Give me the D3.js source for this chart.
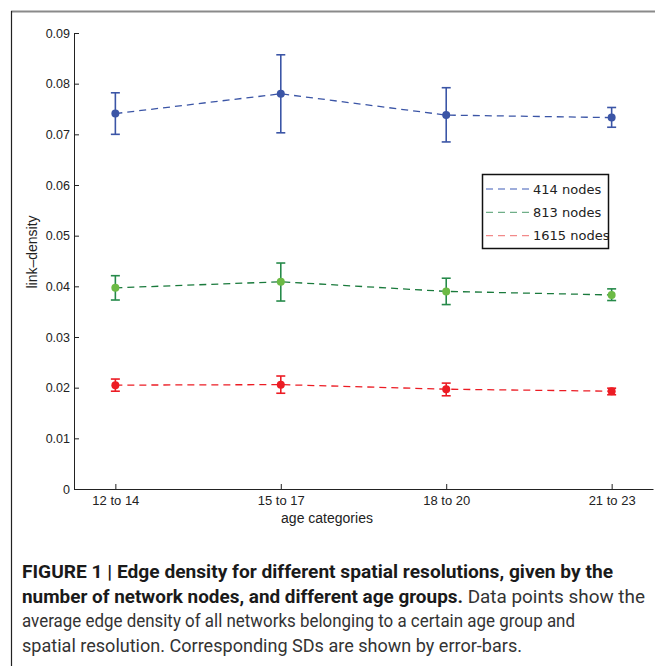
<!DOCTYPE html>
<html><head><meta charset="utf-8">
<script src="https://cdn.jsdelivr.net/npm/d3@7"></script>
<style>body{margin:0;background:#fff}svg{display:block}</style>
</head><body>
<script>
const categories = ["12 to 14","15 to 17","18 to 20","21 to 23"];
const seriesNames = ["414 nodes","813 nodes","1615 nodes"];
const mean414 = [0.0741,0.0780,0.0738,0.0733];
const lo414   = [0.0700,0.0703,0.0685,0.0714];
const hi414   = [0.0782,0.0857,0.0792,0.0753];
const mean813 = [0.0397,0.0409,0.0390,0.0383];
const lo813   = [0.0373,0.0371,0.0364,0.0372];
const hi813   = [0.0421,0.0446,0.0416,0.0395];
const mean1615= [0.0205,0.0206,0.0197,0.0193];
const lo1615  = [0.0193,0.0189,0.0184,0.0186];
const hi1615  = [0.0217,0.0223,0.0209,0.0199];
const yTicks = [0,0.01,0.02,0.03,0.04,0.05,0.06,0.07,0.08,0.09];
const yTickLabels = ["0","0.01","0.02","0.03","0.04","0.05","0.06","0.07","0.08","0.09"];

const W=655,H=666;
const svg=d3.select("body").append("svg").attr("width",W).attr("height",H);
// frame
svg.append("line").attr("x1",11).attr("x2",655).attr("y1",11.5).attr("y2",11.5).attr("stroke","#8a8a8a").attr("stroke-width",2);
svg.append("line").attr("x1",11.5).attr("x2",11.5).attr("y1",11).attr("y2",666).attr("stroke","#222").attr("stroke-width",1.2);

const x=d3.scaleLinear().domain([0.75,4.25]).range([74,653]);
const y=d3.scaleLinear().domain([0,0.09]).range([489,33]);

const g=svg.append("g");
// y axis (inward ticks)
const yAxis=d3.axisLeft(y).tickValues(yTicks).tickFormat((d,i)=>yTickLabels[i]).tickSizeInner(-5).tickSizeOuter(0).tickPadding(4);
const ya=g.append("g").attr("transform","translate(74,0)").call(yAxis);
ya.select(".domain").attr("stroke","#222");
ya.selectAll(".tick line").attr("stroke","#222");
ya.selectAll("text").attr("font-family","Liberation Sans, Arial, sans-serif").attr("font-size",12.5).attr("fill","#222");
const xAxis=d3.axisBottom(x).tickValues([1,2,3,4]).tickFormat((d,i)=>categories[i]).tickSizeInner(-5).tickSizeOuter(0).tickPadding(7);
const xa=g.append("g").attr("transform","translate(0,489)").call(xAxis);
xa.select(".domain").attr("stroke","#222");
xa.selectAll(".tick line").attr("stroke","#222");
xa.selectAll("text").attr("font-family","Liberation Sans Narrow, Liberation Sans, Arial, sans-serif").attr("font-size",13).attr("fill","#222");

svg.append("text").attr("transform","translate(37,252) rotate(-90)").attr("text-anchor","middle")
  .attr("font-family","Liberation Sans, Arial, sans-serif").attr("font-size",14).attr("fill","#222").text("link–density");
svg.append("text").attr("x",327).attr("y",523).attr("text-anchor","middle")
  .attr("font-family","Liberation Sans, Arial, sans-serif").attr("font-size",14).attr("fill","#222").text("age categories");

const series=[
 {mean:mean414,lo:lo414,hi:hi414,line:"#3b55a6",err:"#3b55a6",mk:"#3b55a6",leg:"#7f93d0"},
 {mean:mean813,lo:lo813,hi:hi813,line:"#1a7a3c",err:"#268a4a",mk:"#6cba45",leg:"#6fae88"},
 {mean:mean1615,lo:lo1615,hi:hi1615,line:"#ec1c24",err:"#ec1c24",mk:"#ec1c24",leg:"#f28a8a"}
];
series.forEach(s=>{
  const pts=s.mean.map((v,i)=>({x:i+1,v,lo:s.lo[i],hi:s.hi[i]}));
  svg.append("path").datum(pts).attr("fill","none").attr("stroke",s.line).attr("stroke-width",1.3)
    .attr("stroke-dasharray","7,5").attr("d",d3.line().x(d=>x(d.x)).y(d=>y(d.v)));
  const eg=svg.append("g");
  pts.forEach(d=>{
    const cx=x(d.x);
    eg.append("line").attr("x1",cx).attr("x2",cx).attr("y1",y(d.lo)).attr("y2",y(d.hi)).attr("stroke",s.err).attr("stroke-width",1.6);
    [d.lo,d.hi].forEach(v=>eg.append("line").attr("x1",cx-4.5).attr("x2",cx+4.5).attr("y1",y(v)).attr("y2",y(v)).attr("stroke",s.err).attr("stroke-width",1.6));
    eg.append("circle").attr("cx",cx).attr("cy",y(d.v)).attr("r",4).attr("fill",s.mk);
  });
});

// legend
const lg=svg.append("g");
lg.append("rect").attr("x",482.5).attr("y",174.5).attr("width",126).attr("height",74).attr("fill","#fff").attr("stroke","#111").attr("stroke-width",1.5);
const clip=svg.append("clipPath").attr("id","lc").append("rect").attr("x",483).attr("y",175).attr("width",125).attr("height",73);
const lgi=lg.append("g").attr("clip-path","url(#lc)");
seriesNames.forEach((n,i)=>{
  const yy=189+i*23.3;
  lgi.append("line").attr("x1",486).attr("x2",531).attr("y1",yy).attr("y2",yy).attr("stroke",series[i].leg).attr("stroke-width",1.3).attr("stroke-dasharray","7,5");
  lgi.append("text").attr("x",533).attr("y",yy+4.5).attr("font-family","DejaVu Sans, sans-serif").attr("font-size",13).attr("fill","#222").text(n);
});

// caption
const cap=svg.append("g").attr("font-family","Roboto, Liberation Sans, Arial, sans-serif").attr("font-size",17.5).attr("fill","#222");
const lines=[
  [["FIGURE 1 | Edge density for different spatial resolutions, given by the",true]],
  [["number of network nodes, and different age groups.",true],[" Data points show the",false]],
  [["average edge density of all networks belonging to a certain age group and",false]],
  [["spatial resolution. Corresponding SDs are shown by error-bars.",false]]
];
const widths=[591,623,553,500];
lines.forEach((ln,i)=>{
  const t=cap.append("text").attr("x",22).attr("y",578+i*24.5).attr("textLength",widths[i]).attr("lengthAdjust","spacingAndGlyphs");
  ln.forEach(([s,b])=>t.append("tspan").attr("font-weight",b?"bold":"normal").attr("fill",b?"#1a1a1a":"#333").text(s));
});
</script>
</body></html>
